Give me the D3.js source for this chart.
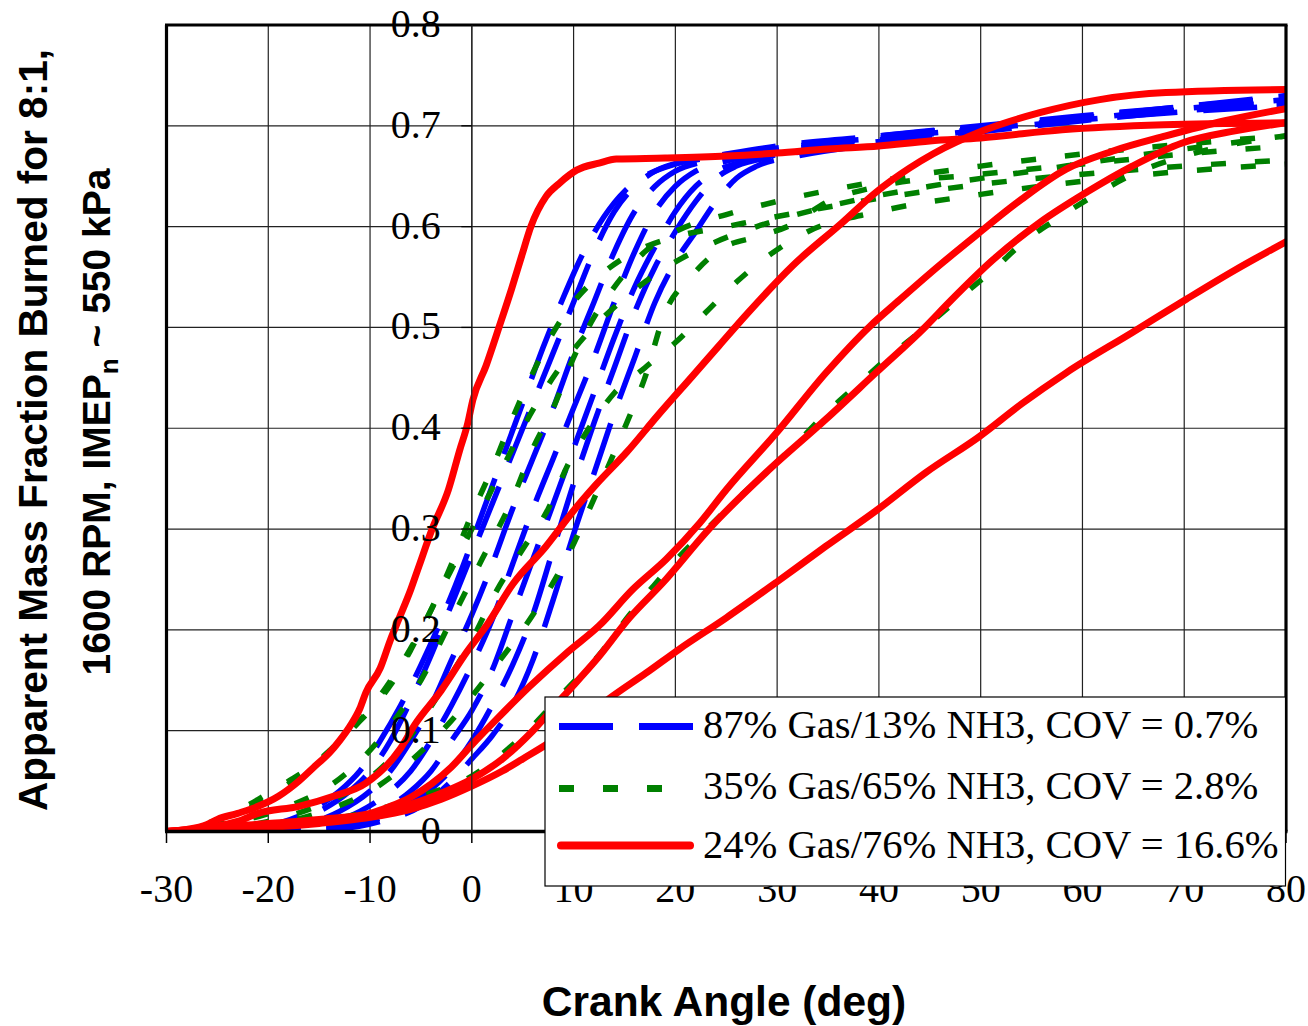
<!DOCTYPE html>
<html><head><meta charset="utf-8">
<script src="https://cdn.jsdelivr.net/npm/d3@7"></script>
<style>html,body{margin:0;padding:0;background:#fff;} svg{display:block;}</style>
</head><body>
<svg id="chart" width="1308" height="1026"></svg>
<script>
// ---------------- DATA ----------------
const xTicks = [-30,-20,-10,0,10,20,30,40,50,60,70,80];
const yTicks = [0,0.1,0.2,0.3,0.4,0.5,0.6,0.7,0.8];
const yTickLabels = ["0","0.1","0.2","0.3","0.4","0.5","0.6","0.7","0.8"];
const legendLabels = ["87% Gas/13% NH3, COV = 0.7%","35% Gas/65% NH3, COV = 2.8%","24% Gas/76% NH3, COV = 16.6%"];
const xTitle = "Crank Angle (deg)";
const yTitle1 = "Apparent Mass Fraction Burned for 8:1,";

// 87% Gas / 13% NH3 cycles  [crank angle, mass fraction burned]
const blue1 = [[-30,0],[-23,0.002],[-19,0.008],[-16,0.02],[-13,0.04],[-11,0.06],[-9,0.09],[-7,0.125],[-5,0.165],[-3,0.21],[-1,0.26],[1,0.315],[3,0.37],[5,0.425],[7,0.48],[9,0.53],[11,0.575],[13,0.61],[15,0.635],[17,0.65],[20,0.662],[25,0.67],[30,0.678],[40,0.688],[50,0.697],[60,0.706],[70,0.714],[80,0.72]];
const blue2 = [[-30,0],[-22,0.002],[-18,0.008],[-15,0.02],[-12,0.04],[-10,0.06],[-8,0.09],[-6,0.13],[-4,0.175],[-2,0.225],[0,0.275],[2,0.325],[4,0.375],[6,0.425],[8,0.475],[10,0.525],[12,0.575],[14,0.615],[16,0.64],[18,0.655],[21,0.665],[25,0.672],[30,0.68],[40,0.69],[50,0.699],[60,0.708],[70,0.716],[80,0.724]];
const blue3 = [[-30,0],[-20,0.002],[-16,0.008],[-13,0.02],[-10,0.04],[-8,0.06],[-6,0.09],[-4,0.125],[-2,0.17],[0,0.215],[2,0.265],[4,0.32],[6,0.37],[8,0.42],[10,0.475],[12,0.525],[14,0.575],[16,0.615],[18,0.64],[20,0.655],[23,0.665],[27,0.672],[32,0.68],[40,0.69],[50,0.7],[60,0.71],[70,0.719],[80,0.728]];
const blue4 = [[-30,0],[-18,0.002],[-14,0.008],[-11,0.02],[-8,0.04],[-6,0.06],[-4,0.09],[-2,0.125],[0,0.165],[2,0.21],[4,0.265],[6,0.32],[8,0.37],[10,0.42],[12,0.47],[14,0.525],[16,0.575],[18,0.615],[20,0.64],[22,0.655],[25,0.665],[29,0.673],[35,0.682],[45,0.693],[55,0.704],[65,0.714],[80,0.73]];
const blue5 = [[-30,0],[-16,0.002],[-12,0.008],[-9,0.02],[-6,0.04],[-4,0.06],[-2,0.09],[0,0.12],[2,0.16],[4,0.215],[6,0.27],[8,0.325],[10,0.38],[12,0.435],[14,0.49],[16,0.54],[18,0.58],[20,0.615],[22,0.64],[24,0.655],[27,0.665],[31,0.673],[40,0.686],[50,0.697],[60,0.707],[70,0.716],[80,0.723]];
const blue6 = [[-30,0],[-15,0.002],[-10,0.01],[-7,0.022],[-4,0.042],[-2,0.062],[0,0.09],[2,0.125],[4,0.165],[6,0.215],[8,0.28],[10,0.345],[12,0.405],[14,0.46],[16,0.515],[18,0.56],[20,0.595],[22,0.625],[24,0.648],[26,0.66],[30,0.67],[35,0.678],[45,0.69],[55,0.701],[65,0.712],[80,0.726]];
const blue7 = [[-30,0],[-14,0.002],[-9,0.01],[-5,0.025],[-2,0.05],[0,0.072],[2,0.095],[4,0.125],[6,0.17],[8,0.23],[10,0.295],[12,0.355],[14,0.415],[16,0.47],[18,0.525],[20,0.565],[22,0.595],[24,0.625],[26,0.648],[28,0.66],[32,0.67],[40,0.682],[50,0.694],[60,0.705],[70,0.715],[80,0.722]];

// 35% Gas / 65% NH3 cycles
const green1 = [[-30,0],[-28,0.002],[-26,0.008],[-24,0.016],[-22,0.026],[-20,0.038],[-18,0.05],[-16,0.063],[-14,0.08],[-12,0.1],[-10,0.12],[-8,0.145],[-6,0.18],[-4,0.22],[-2,0.265],[0,0.315],[2,0.36],[4,0.41],[6,0.455],[8,0.495],[10,0.525],[13,0.555],[16,0.575],[20,0.59],[25,0.6],[30,0.61],[40,0.628],[50,0.642],[60,0.652],[70,0.66],[80,0.666]];
const green2 = [[-30,0],[-27,0.003],[-25,0.01],[-23,0.018],[-21,0.028],[-19,0.04],[-17,0.055],[-15,0.07],[-13,0.088],[-11,0.11],[-9,0.135],[-7,0.165],[-5,0.2],[-3,0.24],[-1,0.28],[1,0.32],[3,0.36],[5,0.4],[7,0.435],[9,0.465],[11,0.49],[14,0.52],[17,0.545],[20,0.565],[24,0.585],[28,0.6],[35,0.62],[45,0.64],[55,0.655],[65,0.67],[80,0.69]];
const green3 = [[-30,0],[-24,0.003],[-20,0.01],[-16,0.022],[-12,0.04],[-9,0.062],[-6,0.095],[-3,0.14],[0,0.19],[2.5,0.24],[5,0.28],[7.5,0.32],[9.5,0.365],[11.5,0.4],[14,0.435],[17,0.46],[20,0.485],[23,0.515],[26,0.545],[29,0.57],[33,0.595],[40,0.615],[50,0.632],[60,0.645],[70,0.655],[80,0.662]];
const green4 = [[-30,0],[-26,0.003],[-22,0.012],[-18,0.025],[-14,0.045],[-11,0.07],[-8,0.105],[-5,0.15],[-2,0.21],[1,0.27],[4,0.33],[6,0.38],[8,0.42],[10,0.47],[12,0.51],[14,0.54],[17,0.575],[20,0.595],[25,0.612],[30,0.625],[40,0.645],[50,0.66],[60,0.672],[70,0.682],[80,0.69]];
const green5 = [[-30,0],[-22,0.003],[-18,0.01],[-14,0.022],[-10,0.04],[-6,0.07],[-2,0.11],[2,0.16],[6,0.215],[9,0.265],[12,0.33],[15,0.4],[17,0.45],[19,0.515],[21.5,0.55],[24.5,0.578],[28,0.59],[31,0.6],[35,0.625],[40,0.64],[50,0.652],[60,0.662],[70,0.672],[80,0.68]];
const green6 = [[-30,0],[-20,0.003],[-15,0.01],[-10,0.02],[-5,0.035],[0,0.055],[5,0.095],[9.5,0.143],[12.5,0.175],[15.5,0.215],[17.8,0.243],[20.4,0.273],[23.7,0.306],[26,0.329],[28.9,0.356],[31.9,0.385],[34.8,0.415],[38.1,0.445],[41,0.471],[44.3,0.498],[48,0.53],[51.2,0.557],[54.5,0.587],[57.4,0.607],[61,0.63],[65,0.652],[70,0.67],[75,0.682],[80,0.69]];

// 24% Gas / 76% NH3 cycles
const red1 = [[-30,0],[-28,0.002],[-26,0.007],[-25,0.012],[-23,0.018],[-21,0.025],[-19,0.035],[-17,0.05],[-15.5,0.064],[-14,0.078],[-13,0.09],[-12,0.104],[-11,0.122],[-10.4,0.138],[-9,0.162],[-8,0.19],[-7.2,0.21],[-6,0.24],[-5.2,0.263],[-3.9,0.3],[-2.3,0.339],[-1.2,0.378],[-0.4,0.405],[0.1,0.428],[1.4,0.462],[2.7,0.501],[3.9,0.538],[4.9,0.571],[5.8,0.6],[7.3,0.63],[8.6,0.643],[10.3,0.656],[12.5,0.663],[14.2,0.667],[19,0.668],[25,0.67],[30,0.673],[35,0.677],[40,0.68],[45,0.685],[50,0.688],[58,0.696],[68,0.701],[80,0.703]];
const red2 = [[-30,0],[-26,0.004],[-23,0.01],[-21,0.018],[-17,0.025],[-13.6,0.035],[-10.4,0.048],[-7.1,0.081],[-5.6,0.106],[-3,0.14],[-0.5,0.178],[1.5,0.205],[4,0.245],[7.3,0.283],[9.9,0.317],[12.2,0.344],[15.2,0.376],[18.3,0.413],[21.7,0.452],[24.3,0.482],[27,0.513],[31.5,0.561],[36.4,0.604],[39.7,0.634],[43,0.658],[45.3,0.672],[50.2,0.695],[55.8,0.713],[61.7,0.726],[68.2,0.733],[80,0.736]];
const red3 = [[-30,0],[-25,0.004],[-20,0.008],[-15,0.012],[-10,0.018],[-8,0.025],[-6,0.034],[-4,0.047],[-2,0.064],[0,0.086],[2.4,0.111],[5.7,0.144],[9.3,0.177],[12.5,0.204],[15.8,0.24],[19.1,0.27],[22.4,0.306],[25,0.339],[29.9,0.395],[34.8,0.455],[39.1,0.501],[42,0.527],[46,0.562],[49.5,0.591],[54,0.627],[58.4,0.657],[63,0.675],[68.2,0.69],[74,0.705],[80,0.717]];
const red4 = [[-30,0],[-25,0.002],[-20,0.005],[-15,0.01],[-10,0.017],[-6,0.027],[-3,0.038],[0,0.052],[3,0.072],[6,0.1],[9,0.134],[12.2,0.17],[15.5,0.212],[18.8,0.247],[23.3,0.3],[28.9,0.356],[34.8,0.409],[39.7,0.455],[44.6,0.501],[46.9,0.525],[51.2,0.567],[55.8,0.604],[60.4,0.634],[64.9,0.66],[69.8,0.683],[75,0.695],[80,0.703]];
const red5 = [[-30,0],[-25,0.002],[-20,0.004],[-15,0.008],[-10,0.014],[-6,0.022],[-3,0.032],[0,0.045],[3,0.06],[5,0.072],[7.6,0.088],[10,0.105],[13.8,0.134],[17.1,0.157],[20.4,0.181],[25,0.212],[29.9,0.247],[34.8,0.283],[39.7,0.318],[44.6,0.356],[49.9,0.392],[54,0.424],[58.4,0.455],[64.9,0.495],[70.2,0.528],[75,0.557],[80,0.585]];

const blueCycles = [blue1, blue2, blue3, blue4, blue5, blue6, blue7];
const greenCycles = [green1, green2, green3, green4, green5, green6];
const redCycles = [red1, red2, red3, red4, red5];

// ---------------- DRAWING ----------------
const svg = d3.select("#chart");
const L = 166.5, R = 1286, T = 25, B = 831.5;
const x = d3.scaleLinear().domain([-30, 80]).range([L, R]);
const y = d3.scaleLinear().domain([0, 0.8]).range([B, T]);
const serif = "'Liberation Serif','Times New Roman',serif";
const sans = "'Liberation Sans',Arial,sans-serif";

svg.append("rect").attr("width",1308).attr("height",1026).attr("fill","#fff");

svg.append("defs").append("clipPath").attr("id","plotclip")
  .append("rect").attr("x",L).attr("y",T-4).attr("width",R-L).attr("height",B-T+4);

// grid
const grid = svg.append("g");
grid.selectAll("line.v").data(xTicks.filter(t => t > -30 && t < 80)).join("line")
  .attr("x1", d => x(d)).attr("x2", d => x(d)).attr("y1", T).attr("y2", B)
  .attr("stroke", "#222").attr("stroke-width", 1.2);
grid.selectAll("line.h").data(yTicks.filter(t => t > 0 && t < 0.8)).join("line")
  .attr("x1", L).attr("x2", R).attr("y1", d => y(d)).attr("y2", d => y(d))
  .attr("stroke", "#222").attr("stroke-width", 1.2);

const line = d3.line().x(d => x(d[0])).y(d => y(d[1])).curve(d3.curveMonotoneX);
const data = svg.append("g").attr("clip-path","url(#plotclip)");

data.selectAll("path.blue").data(blueCycles).join("path")
  .attr("d", line).attr("fill","none").attr("stroke","#0000ff")
  .attr("stroke-width",5.5).attr("stroke-dasharray","54,26");
data.selectAll("path.green").data(greenCycles).join("path")
  .attr("d", line).attr("fill","none").attr("stroke","#008000")
  .attr("stroke-width",5.5).attr("stroke-dasharray","15,29");
data.selectAll("path.red").data(redCycles).join("path")
  .attr("d", line).attr("fill","none").attr("stroke","#ff0000")
  .attr("stroke-width",7).attr("stroke-linejoin","round").attr("stroke-linecap","round");

// frame
const frame = svg.append("g").attr("stroke","#000").attr("stroke-width",3.2);
frame.append("line").attr("x1",L-1.5).attr("x2",R+1.5).attr("y1",T).attr("y2",T);
frame.append("line").attr("x1",L).attr("x2",L).attr("y1",T).attr("y2",B);
frame.append("line").attr("x1",R).attr("x2",R).attr("y1",T).attr("y2",B);
frame.append("line").attr("x1",L-1.5).attr("x2",R+1.5).attr("y1",B).attr("y2",B).attr("stroke-width",3.6);

// y axis at x = 0
const x0 = x(0);
svg.append("line").attr("x1",x0).attr("x2",x0).attr("y1",T).attr("y2",B).attr("stroke","#222").attr("stroke-width",1.2);
svg.selectAll("line.yt").data(yTicks).join("line")
  .attr("x1", x0-10.5).attr("x2", x0).attr("y1", d => y(d)).attr("y2", d => y(d))
  .attr("stroke","#000").attr("stroke-width",1.3);
svg.selectAll("text.yl").data(yTicks).join("text")
  .attr("x", x0-31).attr("y", d => y(d)+12).attr("text-anchor","end")
  .attr("font-family", serif).attr("font-size", 40).attr("fill","#000")
  .text((d,i) => yTickLabels[i]);

// x ticks
svg.selectAll("line.xt").data(xTicks).join("line")
  .attr("x1", d => x(d)).attr("x2", d => x(d)).attr("y1", B).attr("y2", B+11.5)
  .attr("stroke","#000").attr("stroke-width",1.5);
svg.selectAll("text.xl").data(xTicks).join("text")
  .attr("x", d => x(d)).attr("y", 902).attr("text-anchor","middle")
  .attr("font-family", serif).attr("font-size", 40).attr("fill","#000")
  .text(d => d);

// titles
svg.append("text").attr("x",724).attr("y",1016).attr("text-anchor","middle")
  .attr("font-family",sans).attr("font-weight","bold").attr("font-size",42.5)
  .text(xTitle);
svg.append("text").attr("transform","translate(47,430) rotate(-90)").attr("text-anchor","middle")
  .attr("font-family",sans).attr("font-weight","bold").attr("font-size",40.6)
  .text(yTitle1);
const t2 = svg.append("text").attr("transform","translate(110,422) rotate(-90)").attr("text-anchor","middle")
  .attr("font-family",sans).attr("font-weight","bold").attr("font-size",39);
t2.append("tspan").text("1600 RPM, IMEP");
t2.append("tspan").attr("font-size",26).attr("dy",8).text("n");
t2.append("tspan").attr("dy",-8).text(" ~ 550 kPa");

// legend
const lg = svg.append("g");
lg.append("rect").attr("x",545).attr("y",697).attr("width",740.5).attr("height",189)
  .attr("fill","#fff").attr("stroke","#000").attr("stroke-width",1.2);
const ly = [726.5, 788.5, 845.5];
lg.append("line").attr("x1",559).attr("x2",693).attr("y1",ly[0]).attr("y2",ly[0])
  .attr("stroke","#0000ff").attr("stroke-width",7).attr("stroke-dasharray","54,26");
lg.append("line").attr("x1",559).attr("x2",662).attr("y1",ly[1]).attr("y2",ly[1])
  .attr("stroke","#008000").attr("stroke-width",7).attr("stroke-dasharray","15,29");
lg.append("line").attr("x1",561).attr("x2",690).attr("y1",ly[2]).attr("y2",ly[2])
  .attr("stroke","#ff0000").attr("stroke-width",8).attr("stroke-linecap","round");
lg.selectAll("text.lt").data(legendLabels).join("text")
  .attr("x",703).attr("y",(d,i)=>[738,799,858][i])
  .attr("font-family",serif).attr("font-size",40.6).attr("fill","#000")
  .text(d=>d);
</script>
</body></html>
